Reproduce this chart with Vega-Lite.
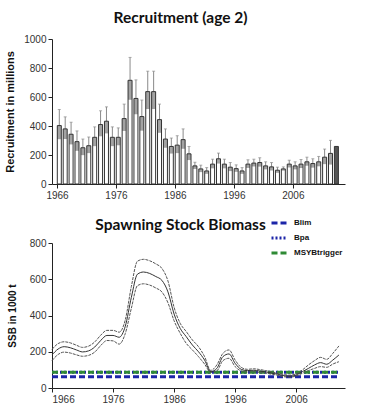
{
  "$schema": "https://vega.github.io/schema/vega-lite/v6.json",
  "background": "white",
  "padding": {"left": 4, "top": 10, "right": 5, "bottom": 5},
  "autosize": {"type": "pad"},
  "bounds": "flush",
  "spacing": 59,
  "resolve": {"legend": {"color": "independent", "strokeDash": "independent"}},
  "config": {
    "view": {"stroke": null},
    "axis": {"labelFont": "Liberation Sans", "labelFontSize": 10, "labelColor": "#333", "titleFont": "Liberation Sans", "titleFontWeight": "bold", "titleColor": "#111", "domainColor": "#222", "tickColor": "#222", "grid": false, "tickSize": 4, "labelPadding": 2},
    "title": {"font": "Lato", "fontSize": 15.5, "fontWeight": "bold", "color": "#111"}
  },
  "datasets": {
    "rec": [
      {"year": 1966, "value": 403, "low": 309, "high": 514},
      {"year": 1967, "value": 380, "low": 310, "high": 463},
      {"year": 1968, "value": 343, "low": 273, "high": 426},
      {"year": 1969, "value": 292, "low": 229, "high": 366},
      {"year": 1970, "value": 250, "low": 199, "high": 310},
      {"year": 1971, "value": 264, "low": 213, "high": 324},
      {"year": 1972, "value": 322, "low": 261, "high": 394},
      {"year": 1973, "value": 410, "low": 329, "high": 505},
      {"year": 1974, "value": 433, "low": 349, "high": 532},
      {"year": 1975, "value": 322, "low": 261, "high": 394},
      {"year": 1976, "value": 322, "low": 267, "high": 387},
      {"year": 1977, "value": 451, "low": 366, "high": 551},
      {"year": 1978, "value": 715, "low": 581, "high": 873},
      {"year": 1979, "value": 590, "low": 481, "high": 718},
      {"year": 1980, "value": 465, "low": 368, "high": 579},
      {"year": 1981, "value": 637, "low": 517, "high": 778},
      {"year": 1982, "value": 637, "low": 517, "high": 778},
      {"year": 1983, "value": 444, "low": 353, "high": 551},
      {"year": 1984, "value": 310, "low": 250, "high": 380},
      {"year": 1985, "value": 259, "low": 210, "high": 317},
      {"year": 1986, "value": 268, "low": 213, "high": 333},
      {"year": 1987, "value": 306, "low": 243, "high": 380},
      {"year": 1988, "value": 208, "low": 165, "high": 259},
      {"year": 1989, "value": 125, "low": 104, "high": 150},
      {"year": 1990, "value": 104, "low": 82, "high": 130},
      {"year": 1991, "value": 90, "low": 70, "high": 113},
      {"year": 1992, "value": 137, "low": 108, "high": 171},
      {"year": 1993, "value": 174, "low": 141, "high": 213},
      {"year": 1994, "value": 137, "low": 108, "high": 171},
      {"year": 1995, "value": 116, "low": 89, "high": 148},
      {"year": 1996, "value": 106, "low": 84, "high": 132},
      {"year": 1997, "value": 90, "low": 70, "high": 113},
      {"year": 1998, "value": 137, "low": 111, "high": 167},
      {"year": 1999, "value": 144, "low": 121, "high": 171},
      {"year": 2000, "value": 148, "low": 120, "high": 181},
      {"year": 2001, "value": 125, "low": 101, "high": 153},
      {"year": 2002, "value": 118, "low": 93, "high": 148},
      {"year": 2003, "value": 95, "low": 77, "high": 116},
      {"year": 2004, "value": 104, "low": 92, "high": 118},
      {"year": 2005, "value": 137, "low": 114, "high": 164},
      {"year": 2006, "value": 125, "low": 101, "high": 153},
      {"year": 2007, "value": 137, "low": 110, "high": 169},
      {"year": 2008, "value": 153, "low": 126, "high": 185},
      {"year": 2009, "value": 141, "low": 113, "high": 174},
      {"year": 2010, "value": 153, "low": 122, "high": 190},
      {"year": 2011, "value": 185, "low": 137, "high": 241},
      {"year": 2012, "value": 211, "low": 134, "high": 301},
      {"year": 2013, "value": 259, "low": null, "high": null}
    ],
    "ssb": [
      {"year": 1966, "lo": 151, "mid": 182, "hi": 213},
      {"year": 1967, "lo": 185, "mid": 215, "hi": 245},
      {"year": 1968, "lo": 198, "mid": 228, "hi": 255},
      {"year": 1969, "lo": 193, "mid": 222, "hi": 249},
      {"year": 1970, "lo": 183, "mid": 210, "hi": 236},
      {"year": 1971, "lo": 175, "mid": 199, "hi": 224},
      {"year": 1972, "lo": 180, "mid": 205, "hi": 231},
      {"year": 1973, "lo": 198, "mid": 226, "hi": 254},
      {"year": 1974, "lo": 235, "mid": 263, "hi": 292},
      {"year": 1975, "lo": 262, "mid": 290, "hi": 318},
      {"year": 1976, "lo": 260, "mid": 290, "hi": 318},
      {"year": 1977, "lo": 242, "mid": 280, "hi": 308},
      {"year": 1978, "lo": 300, "mid": 340, "hi": 375},
      {"year": 1979, "lo": 440, "mid": 500, "hi": 560},
      {"year": 1980, "lo": 565, "mid": 628, "hi": 700},
      {"year": 1981, "lo": 575, "mid": 640, "hi": 710},
      {"year": 1982, "lo": 568, "mid": 632, "hi": 702},
      {"year": 1983, "lo": 552, "mid": 615, "hi": 685},
      {"year": 1984, "lo": 530, "mid": 594, "hi": 660},
      {"year": 1985, "lo": 470, "mid": 530, "hi": 590},
      {"year": 1986, "lo": 371, "mid": 408, "hi": 445},
      {"year": 1987, "lo": 302, "mid": 329, "hi": 357},
      {"year": 1988, "lo": 246, "mid": 283, "hi": 311},
      {"year": 1989, "lo": 210, "mid": 237, "hi": 265},
      {"year": 1990, "lo": 173, "mid": 200, "hi": 228},
      {"year": 1991, "lo": 132, "mid": 154, "hi": 173},
      {"year": 1992, "lo": 86, "mid": 90, "hi": 97},
      {"year": 1993, "lo": 94, "mid": 108, "hi": 127},
      {"year": 1994, "lo": 151, "mid": 173, "hi": 191},
      {"year": 1995, "lo": 164, "mid": 188, "hi": 210},
      {"year": 1996, "lo": 118, "mid": 136, "hi": 154},
      {"year": 1997, "lo": 94, "mid": 103, "hi": 114},
      {"year": 1998, "lo": 88, "mid": 96, "hi": 103},
      {"year": 1999, "lo": 90, "mid": 98, "hi": 106},
      {"year": 2000, "lo": 86, "mid": 94, "hi": 102},
      {"year": 2001, "lo": 82, "mid": 89, "hi": 96},
      {"year": 2002, "lo": 76, "mid": 82, "hi": 89},
      {"year": 2003, "lo": 70, "mid": 76, "hi": 82},
      {"year": 2004, "lo": 62, "mid": 68, "hi": 74},
      {"year": 2005, "lo": 60, "mid": 65, "hi": 71},
      {"year": 2006, "lo": 66, "mid": 72, "hi": 78},
      {"year": 2007, "lo": 81, "mid": 90, "hi": 99},
      {"year": 2008, "lo": 96, "mid": 108, "hi": 127},
      {"year": 2009, "lo": 108, "mid": 127, "hi": 151},
      {"year": 2010, "lo": 118, "mid": 140, "hi": 169},
      {"year": 2011, "lo": 114, "mid": 131, "hi": 158},
      {"year": 2012, "lo": 132, "mid": 154, "hi": 191},
      {"year": 2013, "lo": 145, "mid": 182, "hi": 232}
    ],
    "refs": [
      {"name": "Blim", "value": 62, "from": 1966, "to": 2013},
      {"name": "Bpa", "value": 87, "from": 1966, "to": 2013},
      {"name": "MSYBtrigger", "value": 87, "from": 1966, "to": 2013}
    ]
  },
  "vconcat": [
    {
      "width": 293,
      "height": 145,
      "title": {"text": "Recruitment (age 2)", "anchor": "middle", "dx": -18, "offset": 8},
      "data": {"name": "rec"},
      "encoding": {
        "x": {"field": "year", "type": "quantitative", "scale": {"domain": [1966, 2014], "nice": false, "zero": false},
              "axis": {"values": [1966, 1976, 1986, 1996, 2006], "format": "d", "title": null}},
        "y": {"field": "value", "type": "quantitative", "scale": {"domain": [0, 1000], "nice": false},
              "axis": {"tickCount": 6, "format": "d", "title": "Recruitment in millions", "titleFontSize": 11, "titlePadding": 8, "labelOverlap": false}}
      },
      "layer": [
        {
          "transform": [{"filter": "datum.high != null"}],
          "mark": {"type": "rule", "xOffset": 2.3, "color": "#8a8a8a", "strokeWidth": 1},
          "encoding": {"y2": {"field": "high"}}
        },
        {
          "transform": [{"filter": "datum.high != null"}],
          "mark": {"type": "tick", "orient": "horizontal", "size": 3, "thickness": 1, "xOffset": 2.3, "color": "#8a8a8a"},
          "encoding": {"y": {"field": "high", "type": "quantitative"}}
        },
        {
          "transform": [{"filter": "datum.low != null"}],
          "mark": {"type": "bar", "orient": "vertical", "width": 4, "xOffset": 2.3, "fill": "#a3a3a3"},
          "encoding": {"y": {"field": "low", "type": "quantitative"}, "y2": {"field": "value"}}
        },
        {
          "transform": [{"filter": "datum.high != null"}],
          "mark": {"type": "bar", "orient": "vertical", "width": 4, "xOffset": 2.3, "fillOpacity": 0, "stroke": "#333", "strokeWidth": 1},
          "encoding": {"y2": {"datum": 0}}
        },
        {
          "transform": [{"filter": "datum.high == null"}],
          "mark": {"type": "bar", "orient": "vertical", "width": 4, "xOffset": 2.3, "fill": "#555", "stroke": "#333", "strokeWidth": 1},
          "encoding": {"y2": {"datum": 0}}
        }
      ]
    },
    {
      "width": 293,
      "height": 145,
      "title": {"text": "Spawning Stock Biomass", "anchor": "middle", "dx": -18, "offset": -19},
      "encoding": {
        "x": {"field": "year", "type": "quantitative", "scale": {"domain": [1966, 2014], "nice": false, "zero": false},
              "axis": {"values": [1966, 1976, 1986, 1996, 2006], "format": "d", "title": null}},
        "y": {"field": "mid", "type": "quantitative", "scale": {"domain": [0, 800], "nice": false},
              "axis": {"tickCount": 5, "format": "d", "title": "SSB in 1000 t", "titleFontSize": 10, "titlePadding": 12, "labelOverlap": false}}
      },
      "layer": [
        {
          "data": {"name": "refs"},
          "mark": {"type": "rule", "strokeWidth": 3},
          "encoding": {
            "x": {"field": "from", "type": "quantitative"},
            "x2": {"field": "to"},
            "y": {"field": "value", "type": "quantitative"},
            "color": {"field": "name", "type": "nominal", "sort": null,
                      "scale": {"domain": ["Blim", "Bpa", "MSYBtrigger"], "range": ["#1c25a8", "#1c25a8", "#2f8a35"]},
                      "legend": {"orient": "none", "legendX": 218, "legendY": -29, "title": null, "labelFont": "Liberation Sans", "labelFontSize": 8, "labelFontWeight": "bold", "labelColor": "#111", "symbolType": "stroke", "symbolSize": 225, "symbolStrokeWidth": 3, "rowPadding": 0, "labelOffset": 6}},
            "strokeDash": {"field": "name", "type": "nominal",
                           "scale": {"domain": ["Blim", "Bpa", "MSYBtrigger"], "range": [[6, 3], [2, 2], [6, 3]]}}
          }
        },
        {
          "data": {"name": "ssb"},
          "mark": {"type": "line", "interpolate": "monotone", "color": "#555", "strokeWidth": 1, "strokeDash": [3, 1]},
          "encoding": {"y": {"field": "hi", "type": "quantitative"}}
        },
        {
          "data": {"name": "ssb"},
          "mark": {"type": "line", "interpolate": "monotone", "color": "#555", "strokeWidth": 1, "strokeDash": [3, 1]},
          "encoding": {"y": {"field": "lo", "type": "quantitative"}}
        },
        {
          "data": {"name": "ssb"},
          "mark": {"type": "line", "interpolate": "monotone", "color": "#333", "strokeWidth": 1}
        }
      ]
    }
  ]
}
